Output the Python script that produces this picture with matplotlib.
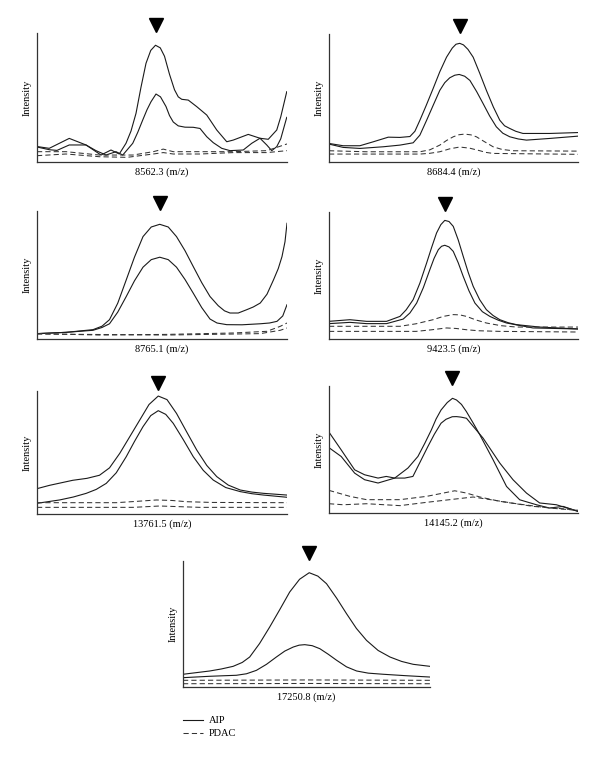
import matplotlib
matplotlib.use("Agg")
import matplotlib.pyplot as plt
from matplotlib.lines import Line2D

plt.rcParams['font.family'] = ['Liberation Serif', 'DejaVu Serif']

# peak labels and marker positions (x in % of window)
mz_labels = ["8562.3", "8684.4", "8765.1", "9423.5", "13761.5", "14145.2", "17250.8"]
peak_x = [47.4, 52.5, 49.1, 46.5, 48.5, 49.4, 51.1]

# each line: (x %, intensity %)
p1_aip1 = [(0.3, 11.9), (4.9, 10.6), (12.9, 18.3), (19.6, 13.2), (25.6, 5.4), (29.6, 9.3), (32.9, 6.2),
           (35.6, 14.5), (37.6, 24), (39.6, 37.7), (41.6, 58), (43.6, 76.5), (45.5, 86.5), (47.4, 90.5),
           (49.3, 88.5), (51, 82), (53, 68), (55, 56), (56.5, 50.5), (57.9, 48.6), (60.5, 48), (63.9, 42.9),
           (67.9, 36.4), (71.9, 24.8), (75.9, 15.7), (78.5, 17), (84.5, 21.4), (89.2, 18.4), (92.5, 17.6),
           (95.9, 24.8), (97.5, 35), (99.9, 54.5)]
p1_aip2 = [(0.3, 11.5), (5, 9.5), (8, 9), (12.9, 13.2), (19.6, 13.2), (23.6, 8.8), (27.6, 5.4), (31.6, 8),
           (34.3, 5.4), (38.3, 14.5), (40.3, 23), (42.3, 32.6), (44, 40.5), (45.6, 46.7), (47.6, 52.7),
           (49.4, 50.5), (51.6, 43), (53, 36), (54.5, 31), (56.5, 28), (59.2, 27), (62.5, 26.9),
           (65.2, 26), (67.9, 19.6), (70.5, 15), (73.9, 10.6), (77.2, 8.8), (82.5, 9.3), (85.9, 14.5),
           (89.2, 18.4), (91.9, 13.2), (93.9, 8.8), (95.9, 11.9), (97.5, 18), (99.9, 34.6)]
p1_pdac1 = [(0, 8), (11.6, 8), (25, 5.4), (38.4, 5.4), (46.5, 8), (50.5, 10), (54.5, 8), (65.2, 8),
            (78.6, 8), (92, 8.8), (100, 14)]
p1_pdac2 = [(0, 4.9), (11.6, 6.2), (25, 4.1), (36, 3.6), (46.5, 6.2), (50.5, 7.3), (54.5, 6.2),
            (65.2, 6.2), (78.6, 7.3), (92, 7.3), (100, 8.8)]

p2_aip1 = [(0, 14.5), (5.7, 12.7), (12.4, 12.7), (17.8, 15.8), (23.8, 19.4), (28.5, 19.2), (32.5, 19.9),
           (34.5, 24), (36.5, 32.6), (39, 44), (41.8, 57.3), (44.5, 70.5), (47.2, 81.9), (49.5, 89),
           (51, 92), (52.5, 92.7), (54, 91.5), (55.8, 88), (57.9, 81.9), (60.5, 69.5), (63.2, 56),
           (66, 43), (68.6, 32.6), (70.5, 28.3), (72.6, 26.2), (75, 24), (77.9, 22.3), (88.6, 22.3),
           (100, 23)]
p2_aip2 = [(0, 14), (5.7, 11.4), (12.4, 10.6), (21.8, 11.9), (28.5, 13.2), (33.8, 15), (36.5, 21),
           (39.2, 32.6), (42, 45), (44.5, 56), (46.5, 62), (48.5, 65.8), (50.5, 67.8), (52.3, 68.4),
           (54.5, 67), (56.6, 63.7), (59.3, 55), (61.9, 45.6), (64.5, 36), (67.2, 27.5), (69.8, 22.5),
           (72.6, 19.7), (76, 18), (79.3, 17.1), (88.6, 18.4), (100, 20.2)]
p2_pdac1 = [(0, 8.8), (15, 8), (36.5, 8), (40.5, 9.5), (44.5, 13.2), (47.2, 16.8), (49.9, 19.7),
            (52.2, 21.3), (54.5, 21.8), (57, 21.2), (59.2, 19.7), (62.5, 15.8), (65.9, 11.9),
            (69.5, 9.8), (73.9, 8.8), (100, 8.5)]
p2_pdac2 = [(0, 6.2), (36.5, 6.2), (40.5, 6.8), (44.5, 8), (48.5, 10.3), (52.5, 11.7), (56.5, 10.8),
            (60.6, 8.8), (63, 7.5), (65.9, 6.7), (100, 6)]

p3_aip1 = [(0, 4.2), (11.6, 5.2), (22.4, 7.3), (26, 10), (29, 15.1), (32.3, 28), (35.7, 46.2),
           (39, 64), (42.4, 80), (45.7, 87.5), (49.1, 89.6), (52.5, 87.5), (55.8, 80), (59.2, 69),
           (62.5, 56.6), (65.9, 44), (69.2, 33.2), (72.5, 26), (75, 22), (77.2, 20.3), (80.5, 20.3),
           (83.9, 22.9), (86.5, 25), (89.3, 28.1), (92, 35), (94.6, 46.2), (96.5, 55), (98, 64.4),
           (99.2, 76), (100, 90.4)]
p3_aip2 = [(0, 4.2), (11.6, 5.2), (22.4, 6.8), (26, 9), (29, 11.9), (32.3, 21), (35.7, 33.2),
           (39, 45.5), (42.4, 56.1), (45.7, 62), (49.1, 63.9), (52.5, 62), (55.8, 56.1), (59.2, 46.5),
           (62.5, 35.8), (65.9, 24.5), (69.2, 15.6), (72, 12.5), (75.9, 11.2), (82, 11.1), (89.3, 11.9),
           (93, 12.5), (96, 13.8), (98.3, 18), (100, 26.8)]
p3_pdac1 = [(0, 4.2), (25, 3.1), (52, 3.6), (78.6, 4.7), (92, 6), (97.3, 9.9), (100, 12.5)]
p3_pdac2 = [(0, 3.9), (52, 3.1), (89.3, 4.2), (97.3, 6.8), (100, 8.6)]

p4_aip1 = [(0, 13.9), (8.4, 15.2), (15.1, 13.9), (23.1, 13.9), (28.5, 17.8), (31, 23), (33.8, 31),
           (36.5, 44), (39.2, 59.8), (41.2, 72), (43.2, 83.5), (44.9, 90), (46.5, 93.4), (48.2, 92.5),
           (49.9, 88.7), (51.9, 78), (53.9, 65.1), (55.9, 52.5), (57.9, 41.5), (60.5, 31), (63.2, 23.1),
           (65.9, 18.5), (68.6, 15.2), (72, 12.8), (75.3, 11.3), (84.6, 9.4), (100, 7.9)]
p4_aip2 = [(0, 12.1), (8.4, 13.1), (15.1, 12.1), (23.1, 12.1), (29.8, 15.7), (32.5, 20.5), (35.2, 28.3),
           (37.9, 40.5), (40.5, 54.6), (42.2, 63.5), (43.9, 70.3), (45.2, 73), (46.5, 73.8), (48.2, 72.5),
           (49.9, 69), (51.9, 60), (53.9, 49.3), (56.2, 38), (58.6, 28.3), (61.6, 21.5), (64.6, 17.8),
           (68, 14.8), (71.3, 12.6), (81.9, 8.7), (100, 7.9)]
p4_pdac1 = [(0, 10), (28.5, 10), (35, 12), (41.8, 15.2), (45.9, 17.8), (49.9, 19.2), (52.5, 19),
            (55.2, 17.8), (59, 15), (63.2, 12.6), (69, 10.5), (75.3, 9.4), (100, 9.4)]
p4_pdac2 = [(0, 6), (35, 6), (41, 7.2), (47.2, 8.7), (51, 8.3), (55.2, 7.3), (60, 6.5), (68.6, 6),
            (100, 5.5)]

p5_aip1 = [(0, 20.6), (5, 23.3), (14.3, 27.4), (20, 29), (25, 31.5), (29, 37.5), (33.1, 49.3),
           (37, 62.5), (41.1, 76.4), (44.8, 89), (48.5, 95.9), (52, 93), (55.8, 81.8), (59.8, 67),
           (63.9, 52), (67.9, 39.5), (71.9, 30.4), (76.5, 23.5), (81.3, 19.5), (86, 17.8), (90.6, 16.8),
           (100, 15.4)]
p5_aip2 = [(0, 8.7), (9, 11.4), (14.5, 13.8), (19.7, 16.8), (23.7, 20), (27.7, 24.9), (31.7, 33.5),
           (35.7, 46.6), (39, 59), (42.4, 71), (45.5, 80), (48.5, 84), (51.5, 81), (54.5, 73.7),
           (58.5, 60.5), (62.5, 46.6), (66.5, 35.5), (70.5, 27.6), (75.5, 21.5), (81.3, 18.2), (86, 16.5),
           (90.6, 15.4), (100, 13.6)]
p5_pdac1 = [(0, 9.2), (31.7, 9.2), (40, 10.3), (47.8, 11.4), (54, 11), (59.8, 10), (70, 9.4), (100, 9.2)]
p5_pdac2 = [(0, 5.4), (38.4, 5.4), (49.1, 6.5), (65.2, 5.4), (100, 5.4)]

p6_aip1 = [(0.3, 62.8), (4.9, 49.7), (10.3, 34), (14.3, 30.1), (19.7, 27.5), (23, 28.8), (26.4, 27.5),
           (31.7, 35.4), (35.7, 44.5), (38.5, 55), (41.1, 65.4), (43, 74), (45, 81.1), (47.5, 87),
           (49.6, 90.3), (51.2, 89), (53.2, 85.5), (55.2, 79.8), (58, 70.5), (60.6, 61.5), (65.9, 41.9),
           (71.3, 20.9), (76.6, 10.4), (83.3, 6.5), (88.6, 3.9), (94, 5.2), (100, 1.3)]
p6_aip2 = [(0.3, 51), (4.9, 44.5), (10.3, 31.4), (14.3, 26.2), (19.7, 23.6), (26.4, 27.5), (30.4, 27.5),
           (33.7, 28.8), (39.7, 52.3), (42.3, 62), (45, 70.7), (47, 73.8), (49.5, 75.8), (51.2, 75.9),
           (53, 75.5), (55.2, 74.6), (61.9, 58.9), (68.6, 39.3), (73.9, 26.2), (79.3, 15.7), (84.6, 7.9),
           (91.3, 6.5), (100, 1.3)]
p6_pdac1 = [(0, 17.8), (8.4, 13.1), (15.1, 10.5), (28.5, 10.5), (39.2, 13.1), (45.9, 15.7), (50.5, 17.5),
            (55.2, 15.7), (60.6, 12.6), (68.6, 9.2), (82, 5.2), (95.3, 3.1), (100, 2.1)]
p6_pdac2 = [(0, 7.3), (5.7, 6.5), (15.1, 7.3), (28.5, 5.8), (39.2, 8.4), (48.5, 10.5), (57.9, 12.6),
            (63.2, 11), (75.3, 7.3), (88.6, 3.9), (100, 2.1)]

p7_aip1 = [(0, 10.1), (5.4, 11.4), (10.8, 12.7), (15.5, 14.3), (20.3, 16.4), (24, 19.5), (27, 23.8),
           (31, 34.5), (35.1, 47.6), (39.2, 61.5), (43.2, 75.4), (47.2, 85.5), (51.1, 90.7), (54.6, 88),
           (58.1, 82), (62.2, 70.5), (66.2, 58.2), (70.2, 46.5), (74.3, 37), (79, 29), (83.8, 23.8),
           (88.5, 20.3), (93.2, 18), (100, 16.4)]
p7_aip2 = [(0, 7.4), (10.8, 8.5), (16, 8.9), (21.6, 9.3), (25.7, 10.5), (29.7, 13.2), (33.8, 18),
           (37.8, 23.8), (41.2, 28.5), (44.6, 31.7), (47, 33.2), (49.3, 33.6), (52.3, 32.8), (55.4, 30.4),
           (58.8, 26), (62.2, 21.2), (66.2, 16), (70.3, 12.7), (75, 11), (81.1, 10.1), (90, 9), (100, 7.9)]
p7_pdac1 = [(0, 5.3), (51, 5.6), (100, 5.3)]
p7_pdac2 = [(0, 2.6), (51, 2.8), (100, 2.6)]

panels = [
    (p1_aip1, p1_aip2, p1_pdac1, p1_pdac2),
    (p2_aip1, p2_aip2, p2_pdac1, p2_pdac2),
    (p3_aip1, p3_aip2, p3_pdac1, p3_pdac2),
    (p4_aip1, p4_aip2, p4_pdac1, p4_pdac2),
    (p5_aip1, p5_aip2, p5_pdac1, p5_pdac2),
    (p6_aip1, p6_aip2, p6_pdac1, p6_pdac2),
    (p7_aip1, p7_aip2, p7_pdac1, p7_pdac2),
]

# axes boxes in pixels: left, right, top, bottom
boxes = [(37, 287, 33, 162), (329, 578, 34, 162),
         (37, 287, 211, 339), (329, 578, 212, 339),
         (37, 287, 391, 514), (329, 578, 386, 513),
         (183, 430, 561, 687)]

W, H = 600, 760
fig = plt.figure(figsize=(W / 100, H / 100), dpi=100)

dash = (0, (5, 3))
for i, (lines, box) in enumerate(zip(panels, boxes)):
    l, r, t, b = box
    ax = fig.add_axes([l / W, 1 - b / H, (r - l) / W, (b - t) / H])
    for j, pts in enumerate(lines):
        xs = [p[0] for p in pts]
        ys = [p[1] for p in pts]
        if j < 2:
            ax.plot(xs, ys, color='#1a1a1a', lw=0.8)
        else:
            ax.plot(xs, ys, color='#333333', lw=0.75, linestyle=dash)
    ax.plot([peak_x[i]], [1.065], marker='v', color='black', markersize=10.5,
            transform=ax.get_xaxis_transform(), clip_on=False)
    ax.set_xlim(0, 100)
    ax.set_ylim(0, 100)
    ax.set_xticks([])
    ax.set_yticks([])
    for s in ['top', 'right']:
        ax.spines[s].set_visible(False)
    for s in ['left', 'bottom']:
        ax.spines[s].set_linewidth(0.9)
        ax.spines[s].set_color('#333333')
    ax.set_xlabel(mz_labels[i] + " (m/z)", fontsize=7.5, labelpad=4)
    ax.set_ylabel("Intensity", fontsize=7.5, labelpad=4)

handles = [Line2D([], [], color='#1a1a1a', lw=0.8),
           Line2D([], [], color='#333333', lw=0.75, linestyle=dash)]
fig.legend(handles, ["AIP", "PDAC"], loc='upper left', bbox_to_anchor=(183 / W, 1 - 716 / H),
           frameon=False, fontsize=7.5, handlelength=1.9, handletextpad=0.6,
           borderpad=0, borderaxespad=0, labelspacing=0.35)

fig.savefig("out.png", dpi=100)
